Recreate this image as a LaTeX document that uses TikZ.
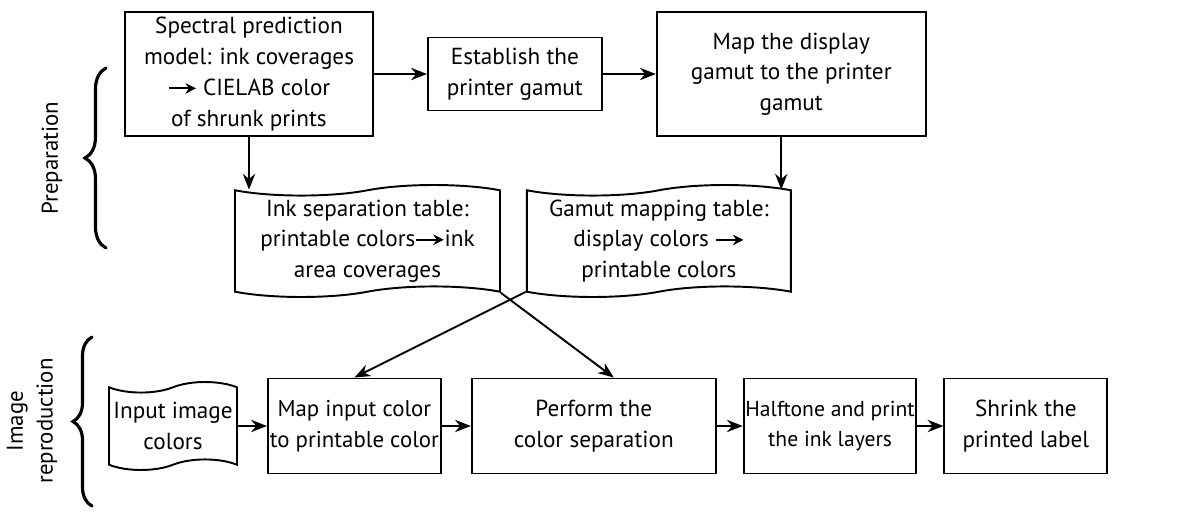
\documentclass[tikz,border=0pt]{standalone}
\usepackage{fontspec}
\setmainfont{PT Sans}
\usetikzlibrary{positioning,shapes.symbols,arrows.meta,decorations.pathreplacing}

\newcommand{\tarr}{\tikz[baseline=-0.6ex]\draw[-{Stealth[length=6pt,width=6pt]},line width=1pt](0cm,0cm)--(0.55cm,0cm);}

\begin{document}
\begin{tikzpicture}[x=0.02cm,y=-0.02cm,
  box/.style = {draw, line width=1.1pt, align=center, font=\fontsize{13.2}{17.5}\selectfont, inner xsep=1pt, inner ysep=2pt},
  doc/.style = {box, tape, tape bend height=6pt},
  link/.style = {-{Stealth[length=9pt,width=7pt]}, line width=1.1pt},
  side/.style = {rotate=90, align=center, font=\fontsize{13}{17}\selectfont},
  curly/.style = {decorate, line width=1.8pt, line cap=round},
  node distance=1.06cm]
\useasboundingbox (0,0) rectangle (1197,513);
% preparation
\node[box, minimum width=4.96cm, minimum height=2.48cm] (spec) at (249,74) {Spectral prediction\\model: ink coverages\\\tarr{} CIELAB color\\of shrunk prints};
\node[box, minimum width=3.48cm, minimum height=1.46cm] (est) [right=of spec] {Establish the\\printer gamut};
\node[box, minimum width=5.38cm, minimum height=2.48cm] (mapd) [right=of est] {Map the display\\gamut to the printer\\gamut};
\node[doc, minimum width=5.3cm, minimum height=2.24cm] (inksep) at (367.5,241) {Ink separation table:\\printable colors\tarr{}ink\\area coverages};
\node[doc, minimum width=5.28cm, minimum height=2.24cm] (gamtab) [right=0.5cm of inksep] {Gamut mapping table:\\display colors \tarr{}\\printable colors};
% reproduction
\node[doc, minimum width=2.56cm, minimum height=1.76cm] (input) at (173,426) {Input image\\colors};
\node[box, minimum width=3.46cm, minimum height=1.9cm, font=\fontsize{13}{17.5}\selectfont] (mapin) [right=0.58cm of input] {Map input color\\to printable color};
\node[box, minimum width=4.88cm, minimum height=1.9cm] (perf) [right=0.58cm of mapin] {Perform the\\color separation};
\node[box, minimum width=3.38cm, minimum height=1.9cm, font=\fontsize{12.3}{17.5}\selectfont] (half) [right=0.52cm of perf] {Halftone and print\\the ink layers};
\node[box, minimum width=3.26cm, minimum height=1.9cm] (shrink) [right=0.52cm of half] {Shrink the\\printed label};
% side labels and braces
\node[side] (prep) at (52,158) {Preparation};
\node[side] (repro) at (32,421) {Image\\reproduction};
\draw[curly, decoration={brace, amplitude=0.42cm}] (106,248) -- (106,68);
\draw[curly, decoration={brace, amplitude=0.38cm}] (92,506) -- (92,337);
% links
\draw[link] (spec) -- (est);
\draw[link] (est) -- (mapd);
\draw[link] (spec.south) -- (spec.south |- inksep.north);
\draw[link] ([xshift=-0.2cm]mapd.south) -- ([xshift=-0.2cm]mapd.south |- gamtab.north);
\draw[link] (inksep.south east) -- ([xshift=0.4cm]perf.north);
\draw[link] (gamtab.south west) -- (mapin.north);
\draw[link] (input) -- (mapin);
\draw[link] (mapin) -- (perf);
\draw[link] (perf) -- (half);
\draw[link] (half) -- (shrink);
\end{tikzpicture}
\end{document}
